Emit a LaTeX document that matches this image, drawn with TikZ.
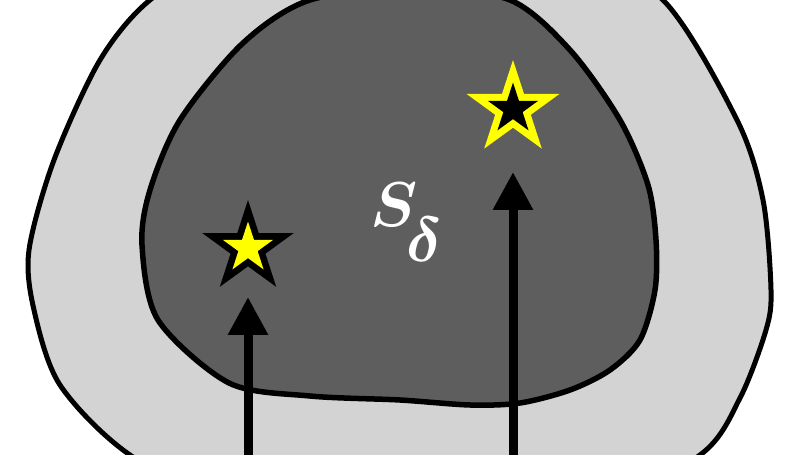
\documentclass[tikz,border=0pt]{standalone}
\usepackage{graphicx}
\usepackage{tikz}
\usetikzlibrary{arrows.meta,positioning,shapes.geometric}

\definecolor{outergray}{HTML}{D3D3D3}
\definecolor{innergray}{HTML}{5E5E5E}
\definecolor{staryellow}{HTML}{FFFF00}

\begin{document}
\begin{tikzpicture}[
  x=0.02cm,y=-0.02cm,
  blob/.style={draw=black, line width=0.1cm, line join=round},
  starbox/.style={star, star points=5, star point ratio=2.618, inner sep=0pt, outer sep=0pt, draw=none},
  arr/.style={-{Triangle[length=0.76cm,width=0.76cm]}, line width=0.18cm, black}
]
\useasboundingbox (0,0) rectangle (808,455);
\clip (0,0) rectangle (808,455);
\fill[white] (0,0) rectangle (808,455);

% outer region
\draw[blob, fill=outergray] plot[smooth cycle] coordinates {
  (410,-75) (230,-45) (150,0) (100,60) (54,160) (29,250) (34,310)
  (60,385) (130,455) (250,515) (415,532) (580,515) (700,455)
  (740,398) (766,330) (771,290) (763,200) (737,120) (663,0) (560,-55)};

% inner region S_delta
\draw[blob, line width=0.11cm, fill=innergray] plot[smooth cycle] coordinates {
  (415,-12) (310,0) (243,43) (180,120) (150,190) (142,245)
  (158,320) (229,383) (310,396) (400,400) (470,405) (520,403)
  (570,390) (610,370) (640,340) (655,290) (656,240) (648,185)
  (620,120) (570,50) (510,0)};

\node[anchor=base west, text=white, inner sep=0pt] (sdelta) at (370,227)
  {\scalebox{1.45}{\Huge\boldmath$S\kern-0.17em\raisebox{-0.55em}{$\delta$}$}};

% stars
\node[starbox, fill=black, minimum size=1.92cm] (starL) at (248,248) {};
\node[starbox, fill=staryellow, minimum size=1.06cm] (starLin) at (248,248) {};
\node[starbox, fill=staryellow, minimum size=1.96cm] (starR) at (513,109) {};
\node[starbox, fill=black, minimum size=1.06cm] (starRin) at (513,109) {};

% arrows
\coordinate (baseL) at (248,475);
\coordinate (baseR) at (513,475);
\draw[arr, shorten >=0.98cm] (baseL) -- (starL.center);
\draw[arr, shorten >=1.26cm] (baseR) -- (starR.center);
\end{tikzpicture}
\end{document}
